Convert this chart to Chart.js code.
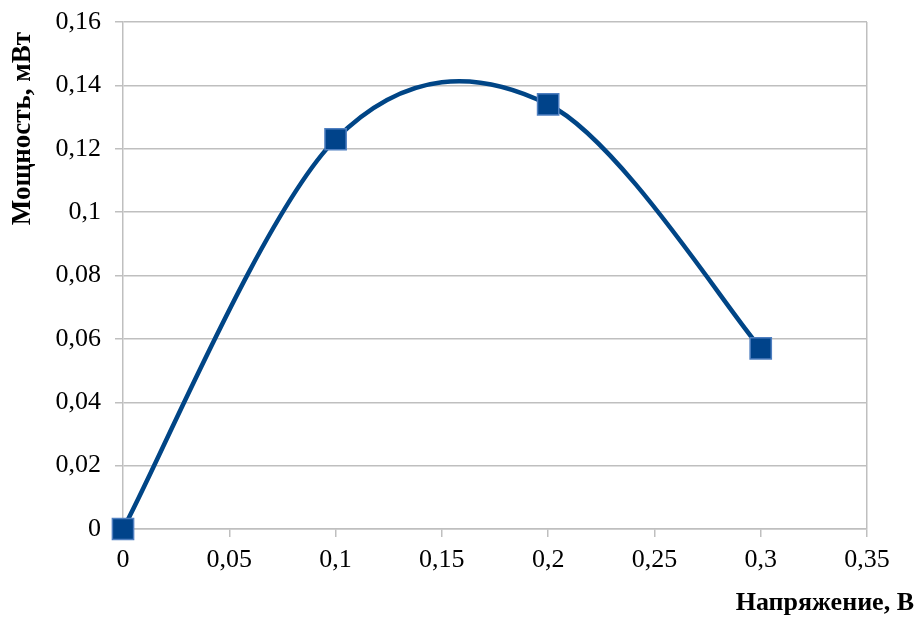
<!DOCTYPE html>
<html>
<head>
<meta charset="utf-8">
<script src="https://cdn.jsdelivr.net/npm/chart.js@4/dist/chart.umd.min.js"></script>
<style>
  html, body { margin: 0; padding: 0; background: #fff; }
  #wrap { width: 919px; height: 617px; }
</style>
</head>
<body>
<div id="wrap"><canvas id="chart" width="919" height="617"></canvas></div>
<script>
// Data
let voltage = [0, 0.1, 0.2, 0.3];
let power = [0, 0.123, 0.134, 0.057];
let xTitle = "Напряжение, В";
let yTitle = "Мощность, мВт";

let gridGray = "#bfbfbf";
let serif = "'Liberation Serif', 'Times New Roman', serif";
Chart.defaults.font.family = serif;

function comma(v) {
  return String(Math.round(v * 1000) / 1000).replace(".", ",");
}

// axis titles drawn as canvas text so they can sit where the original has them
let axisTitles = {
  id: "axisTitles",
  afterDraw(chart) {
    let ctx = chart.ctx;
    ctx.save();
    ctx.fillStyle = "#000";
    ctx.textAlign = "right";
    ctx.textBaseline = "alphabetic";
    ctx.font = "bold 26px " + serif;
    ctx.fillText(xTitle, 914, 610);
    ctx.font = "bold 27px " + serif;
    ctx.translate(30, 32);
    ctx.rotate(-Math.PI / 2);
    ctx.fillText(yTitle, 0, 0);
    ctx.restore();
  }
};

// smooth like the spreadsheet curve: control points = neighbour difference / 6
let smoothCurve = {
  id: "smoothCurve",
  beforeDatasetDraw(chart, args) {
    let meta = args.meta;
    let line = meta.dataset;
    if (!line) return;
    line.updateControlPoints(chart.chartArea, meta.iScale.axis);
    let pts = meta.data;
    let n = pts.length;
    for (let i = 0; i < n; i++) {
      let p = pts[i];
      let prev = pts[Math.max(i - 1, 0)];
      let next = pts[Math.min(i + 1, n - 1)];
      let dx = (next.x - prev.x) / 6;
      let dy = (next.y - prev.y) / 6;
      p.cp1x = p.x - dx;
      p.cp1y = p.y - dy;
      p.cp2x = p.x + dx;
      p.cp2y = p.y + dy;
    }
    line._path = undefined;
  }
};

let points = voltage.map((v, i) => ({ x: v, y: power[i] }));

new Chart(document.getElementById("chart"), {
  type: "line",
  data: {
    datasets: [
      {
        data: points,
        borderColor: "#004586",
        borderWidth: 4.5,
        tension: 0.4,
        clip: false,
        pointStyle: "rect",
        pointRadius: 15,
        pointBackgroundColor: "#00438a",
        pointBorderColor: "#4f7fc0",
        pointBorderWidth: 1.5,
        fill: false
      }
    ]
  },
  options: {
    responsive: false,
    animation: false,
    layout: { padding: { left: 0, top: 22, right: 52, bottom: 0 } },
    plugins: { legend: { display: false }, tooltip: { enabled: false } },
    scales: {
      x: {
        type: "linear",
        min: 0,
        max: 0.35,
        ticks: {
          stepSize: 0.05,
          color: "#000",
          font: { family: serif, size: 26 },
          padding: 8,
          maxRotation: 0,
          callback: (v) => comma(v)
        },
        grid: {
          color: (c) => (c.tick && Math.abs(c.tick.value - 0.35) < 1e-9 ? gridGray : "transparent"),
          tickColor: gridGray,
          tickLength: 8,
          lineWidth: 1.5
        },
        border: { color: gridGray, width: 1.5 },
        afterFit: (s) => { s.height = 88; s.paddingLeft = 0; s.paddingRight = 0; }
      },
      y: {
        min: 0,
        max: 0.16,
        ticks: {
          stepSize: 0.02,
          color: "#000",
          font: { family: serif, size: 26 },
          padding: 14,
          callback: (v) => comma(v)
        },
        grid: {
          color: gridGray,
          tickColor: gridGray,
          tickLength: 8,
          lineWidth: 1.5
        },
        border: { color: gridGray, width: 1.5 },
        afterFit: (s) => { s.width = 123; s.paddingTop = 0; s.paddingBottom = 0; }
      }
    }
  },
  plugins: [smoothCurve, axisTitles]
});
</script>
</body>
</html>
